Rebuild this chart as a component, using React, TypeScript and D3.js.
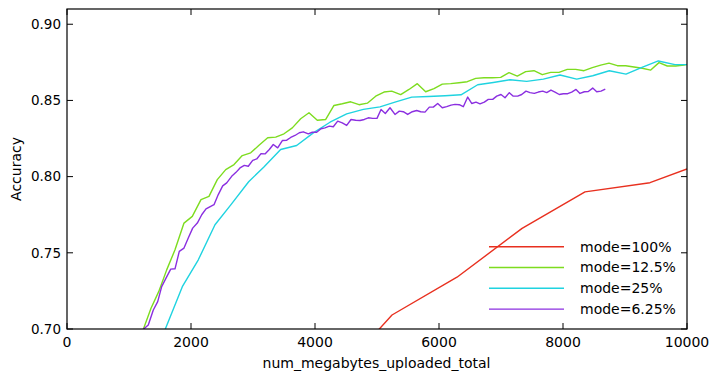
import React from "react";
import * as d3 from "d3";

const xTicks = [0, 2000, 4000, 6000, 8000, 10000];
const yTicks = [0.7, 0.75, 0.8, 0.85, 0.9];
const seriesNames = ["mode=100%", "mode=12.5%", "mode=25%", "mode=6.25%"];
const seriesColors = ["#e8301f", "#7ddc1f", "#1fd3e0", "#8b2fe0"];

const red100X = [4190, 5242, 6290, 7340, 8355, 9403, 10000];
const red100Y = [0.662, 0.7092, 0.734, 0.766, 0.790, 0.796, 0.805];

const green125X = [1100, 1231, 1355, 1479, 1608, 1742, 1887, 2021, 2161, 2290, 2424, 2560, 2694, 2827, 2963, 3097, 3237, 3366, 3500, 3634, 3769, 3903, 4037, 4173, 4306, 4440, 4576, 4710, 4844, 4979, 5113, 5237, 5382, 5516, 5650, 5785, 5919, 6053, 6189, 6323, 6456, 6592, 6726, 6860, 6995, 7129, 7263, 7398, 7532, 7666, 7802, 7935, 8069, 8205, 8339, 8473, 8608, 8742, 8876, 9011, 9145, 9279, 9415, 9548, 9682, 9818, 9952, 10000];
const green125Y = [0.692, 0.6998, 0.7136, 0.7245, 0.7388, 0.752, 0.7695, 0.7739, 0.7849, 0.787, 0.798, 0.8046, 0.8079, 0.8138, 0.8156, 0.8206, 0.8255, 0.8259, 0.8281, 0.832, 0.838, 0.8419, 0.837, 0.8375, 0.8467, 0.8478, 0.8491, 0.8472, 0.8482, 0.8528, 0.8555, 0.8561, 0.8538, 0.8572, 0.861, 0.8557, 0.8577, 0.8607, 0.861, 0.8616, 0.8623, 0.8645, 0.8649, 0.8649, 0.8651, 0.8682, 0.866, 0.8689, 0.8695, 0.8669, 0.8684, 0.8684, 0.8704, 0.8704, 0.8695, 0.8715, 0.8732, 0.8745, 0.8728, 0.8728, 0.8719, 0.8711, 0.8699, 0.8748, 0.8726, 0.8726, 0.8732, 0.8737];

const cyan25X = [1317, 1586, 1860, 2118, 2387, 2645, 2930, 3172, 3446, 3704, 3973, 4242, 4511, 4780, 5048, 5290, 5560, 5828, 6097, 6355, 6624, 6876, 7145, 7414, 7683, 7952, 8221, 8479, 8747, 9016, 9274, 9537, 9806, 10000];
const cyan25Y = [0.673, 0.7, 0.7278, 0.7454, 0.7684, 0.7816, 0.7966, 0.8062, 0.8178, 0.8204, 0.8287, 0.8357, 0.8412, 0.8441, 0.8458, 0.8489, 0.8522, 0.8526, 0.8531, 0.8537, 0.8603, 0.8618, 0.8636, 0.8625, 0.864, 0.8667, 0.864, 0.8662, 0.8695, 0.8673, 0.8717, 0.8759, 0.8735, 0.8735];

const purple625X = [1160, 1231, 1311, 1392, 1463, 1527, 1597, 1673, 1742, 1811, 1887, 1956, 2027, 2102, 2173, 2242, 2318, 2371, 2440, 2511, 2576, 2656, 2726, 2790, 2860, 2924, 2995, 3060, 3129, 3194, 3263, 3327, 3398, 3473, 3544, 3608, 3677, 3747, 3811, 3892, 3956, 4027, 4097, 4161, 4231, 4295, 4366, 4440, 4511, 4581, 4656, 4726, 4795, 4860, 4931, 5000, 5065, 5134, 5210, 5290, 5360, 5424, 5495, 5569, 5640, 5705, 5774, 5844, 5908, 5979, 6053, 6124, 6194, 6258, 6327, 6392, 6463, 6527, 6597, 6661, 6731, 6795, 6866, 6931, 7000, 7065, 7134, 7198, 7269, 7334, 7403, 7468, 7537, 7602, 7673, 7737, 7806, 7871, 7940, 8005, 8076, 8140, 8210, 8274, 8344, 8408, 8479, 8544, 8613, 8682];
const purple625Y = [0.695, 0.6998, 0.7026, 0.7125, 0.718, 0.7278, 0.7334, 0.7393, 0.7395, 0.7509, 0.7531, 0.7597, 0.7662, 0.7695, 0.775, 0.7788, 0.7805, 0.7816, 0.7882, 0.7939, 0.7959, 0.8002, 0.8028, 0.8057, 0.8074, 0.8068, 0.8107, 0.8116, 0.8151, 0.8149, 0.8178, 0.8211, 0.8189, 0.8237, 0.8239, 0.8257, 0.827, 0.8288, 0.8294, 0.8281, 0.8291, 0.8291, 0.8314, 0.832, 0.8331, 0.8327, 0.8364, 0.8353, 0.8336, 0.8375, 0.837, 0.8368, 0.8375, 0.8386, 0.8382, 0.8382, 0.8441, 0.8414, 0.8452, 0.8408, 0.843, 0.8426, 0.8408, 0.8426, 0.8434, 0.8426, 0.8423, 0.8456, 0.8456, 0.848, 0.8452, 0.8459, 0.8469, 0.8474, 0.8472, 0.8459, 0.8522, 0.848, 0.8489, 0.8478, 0.8489, 0.8507, 0.8507, 0.8528, 0.8539, 0.8518, 0.8551, 0.8528, 0.8528, 0.8539, 0.8561, 0.8551, 0.8546, 0.8555, 0.8561, 0.8551, 0.8568, 0.8555, 0.8539, 0.8544, 0.8544, 0.8555, 0.8572, 0.8546, 0.8557, 0.8559, 0.8581, 0.8557, 0.8561, 0.8574];

const seriesX = [red100X, green125X, cyan25X, purple625X];
const seriesY = [red100Y, green125Y, cyan25Y, purple625Y];

const W = 719;
const H = 380;
const L = 67, R = 687, T = 9, B = 329;
const FONT = "'DejaVu Sans', sans-serif";
const FS = 14;

export default function App() {
  const x = d3.scaleLinear().domain([0, 10000]).range([L, R]);
  const y = d3.scaleLinear().domain([0.7, 0.91]).range([B, T]);
  const line = d3.line<[number, number]>().x((d) => x(d[0])).y((d) => y(d[1]));
  const tl = 6;

  return (
    <svg width={W} height={H} style={{ position: "absolute", left: 0, top: 0, background: "#fff" }} fontFamily={FONT}>
      <defs>
        <clipPath id="plotclip">
          <rect x={L} y={T} width={R - L} height={B - T} />
        </clipPath>
      </defs>
      <rect x={0} y={0} width={W} height={H} fill="#fff" />
      <g clipPath="url(#plotclip)">
        {seriesX.map((xs, i) => (
          <path
            key={i}
            d={line(xs.map((v, j) => [v, seriesY[i][j]]) as [number, number][]) || ""}
            fill="none"
            stroke={seriesColors[i]}
            strokeWidth={1.4}
            strokeLinejoin="round"
          />
        ))}
      </g>
      {xTicks.map((t) => (
        <g key={"x" + t}>
          <line x1={x(t)} x2={x(t)} y1={B} y2={B - tl} stroke="#000" strokeWidth={1} />
          <line x1={x(t)} x2={x(t)} y1={T} y2={T + tl} stroke="#000" strokeWidth={1} />
          <text x={x(t)} y={347} textAnchor="middle" fontSize={FS} fill="#000">{t}</text>
        </g>
      ))}
      {yTicks.map((t) => (
        <g key={"y" + t}>
          <line x1={L} x2={L + tl} y1={y(t)} y2={y(t)} stroke="#000" strokeWidth={1} />
          <line x1={R} x2={R - tl} y1={y(t)} y2={y(t)} stroke="#000" strokeWidth={1} />
          <text x={61} y={y(t)} dy="0.35em" textAnchor="end" fontSize={FS - 0.5} fill="#000">{t.toFixed(2)}</text>
        </g>
      ))}
      <rect x={L} y={T} width={R - L} height={B - T} fill="none" stroke="#000" strokeWidth={1.2} />
      <text x={(L + R) / 2 - 0.5} y={368} textAnchor="middle" fontSize={FS} fill="#000">num_megabytes_uploaded_total</text>
      <text transform={`translate(21,${(T + B) / 2}) rotate(-90)`} textAnchor="middle" fontSize={FS} fill="#000">Accuracy</text>
      {seriesNames.map((n, i) => {
        const ly = 246.7 + i * 20.8;
        return (
          <g key={n}>
            <line x1={489} x2={564} y1={ly} y2={ly} stroke={seriesColors[i]} strokeWidth={1.4} />
            <text x={580} y={ly} dy="0.35em" fontSize={FS} fill="#000">{n}</text>
          </g>
        );
      })}
    </svg>
  );
}
